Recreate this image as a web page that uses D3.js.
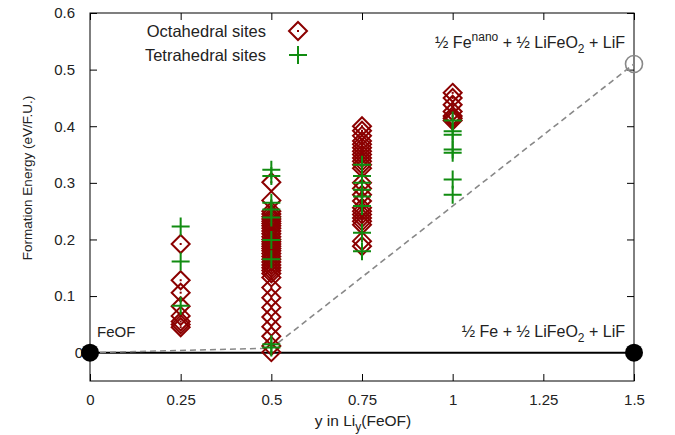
<!DOCTYPE html>
<html>
<head>
<meta charset="utf-8">
<script src="https://cdn.jsdelivr.net/npm/d3@7"></script>
<style>
  body { margin: 0; background: #fff; }
  text { font-family: "Liberation Sans", Arial, sans-serif; fill: #222; }
</style>
</head>
<body>
<script>
// composition y in Li_y(FeOF) for each column of structures
const compositions = [0.25, 0.5, 0.75, 1];

// formation energies (eV/F.U.), one list per composition
const octahedralEnergies = [
  [0.192, 0.128, 0.106, 0.082, 0.065, 0.055, 0.05, 0.045],
  [0.301, 0.269, 0.25, 0.245, 0.24, 0.236, 0.232, 0.228, 0.224, 0.22, 0.215, 0.21,
   0.205, 0.2, 0.196, 0.192, 0.188, 0.184, 0.18, 0.175, 0.17, 0.165, 0.16, 0.155,
   0.15, 0.145, 0.14, 0.133, 0.115, 0.097, 0.08, 0.063, 0.046, 0.029, 0.012, 0.001],
  [0.4, 0.392, 0.383, 0.374, 0.368, 0.362, 0.356, 0.35, 0.344, 0.338, 0.332, 0.326,
   0.3, 0.29, 0.279, 0.268, 0.256, 0.25, 0.244, 0.238, 0.232, 0.226, 0.197, 0.188],
  [0.459, 0.45, 0.438, 0.426, 0.418, 0.414, 0.41]
];
const tetrahedralEnergies = [
  [0.223, 0.161, 0.083],
  [0.323, 0.312, 0.265, 0.253, 0.239, 0.199, 0.165, 0.015, 0.009],
  [0.332, 0.312, 0.3, 0.288, 0.276, 0.259, 0.212, 0.179],
  [0.41, 0.391, 0.385, 0.359, 0.353, 0.306, 0.279]
];

// convex hull with nano Fe (dashed) and the stable end members
const hullY = [0, 0.5, 1.5];
const hullE = [0, 0.008, 0.51];
const endY = [0, 1.5];
const endE = [0, 0];

const xTicks = [0, 0.25, 0.5, 0.75, 1, 1.25, 1.5];
const yTicks = [0, 0.1, 0.2, 0.3, 0.4, 0.5, 0.6];

const W = 675, H = 435;
const plotL = 90, plotR = 634, plotT = 13, plotB = 381;

const svg = d3.select("body").append("svg")
  .attr("width", W).attr("height", H);

const x = d3.scaleLinear().domain([0, 1.5]).range([plotL, plotR]);
const y = d3.scaleLinear().domain([-0.05, 0.6]).range([plotB, plotT]);

const red = "#8b0000", green = "#118c11";

//axes, ticks pointing inward on all four sides
function styleAxis(g) {
  g.select(".domain").remove();
  g.selectAll(".tick line").attr("stroke", "#000");
  g.selectAll(".tick text").style("font-size", "15px").attr("fill", "#222")
    .style("font-family", "'Liberation Sans', Arial, sans-serif");
}
svg.append("g").attr("transform", `translate(0,${plotB})`)
  .call(d3.axisBottom(x).tickValues(xTicks).tickFormat(d => String(d))
    .tickSizeInner(-7).tickSizeOuter(0).tickPadding(13))
  .call(styleAxis);
svg.append("g").attr("transform", `translate(0,${plotT})`)
  .call(d3.axisTop(x).tickValues(xTicks).tickFormat("")
    .tickSizeInner(-7).tickSizeOuter(0))
  .call(styleAxis);
svg.append("g").attr("transform", `translate(${plotL},0)`)
  .call(d3.axisLeft(y).tickValues(yTicks).tickFormat(d => String(d))
    .tickSizeInner(-7).tickSizeOuter(0).tickPadding(15))
  .call(styleAxis)
  .selectAll(".tick text").filter(d => d === 0).attr("x", -7);
svg.append("g").attr("transform", `translate(${plotR},0)`)
  .call(d3.axisRight(y).tickValues(yTicks).tickFormat("")
    .tickSizeInner(-7).tickSizeOuter(0))
  .call(styleAxis);

svg.append("rect")
  .attr("x", plotL).attr("y", plotT)
  .attr("width", plotR - plotL).attr("height", plotB - plotT)
  .attr("fill", "none").attr("stroke", "#000").attr("stroke-width", 1);

// axis titles
svg.append("text")
  .attr("transform", `translate(32,178) rotate(-90)`)
  .attr("text-anchor", "middle").style("font-size", "13.5px")
  .text("Formation Energy (eV/F.U.)");
const xt = svg.append("text")
  .attr("x", (plotL + plotR) / 2 + 1).attr("y", 426)
  .attr("text-anchor", "middle").style("font-size", "15.5px");
xt.append("tspan").text("y in Li");
xt.append("tspan").attr("dy", 5).style("font-size", "12px").text("y");
xt.append("tspan").attr("dy", -5).text("(FeOF)");

// stable line at zero and dashed nano hull
svg.append("line")
  .attr("x1", x(0)).attr("x2", x(1.5)).attr("y1", y(0)).attr("y2", y(0))
  .attr("stroke", "#000").attr("stroke-width", 2);
const hull = hullY.map((d, i) => [d, hullE[i]]);
svg.append("path")
  .attr("d", d3.line().x(d => x(d[0])).y(d => y(d[1]))(hull))
  .attr("fill", "none").attr("stroke", "#888").attr("stroke-width", 1.6)
  .attr("stroke-dasharray", "6,4");

// markers
const diamond = (cx, cy, r) => `M${cx},${cy - r}L${cx + r},${cy}L${cx},${cy + r}L${cx - r},${cy}Z`;
function drawDiamond(g, cx, cy) {
  g.append("path").attr("d", diamond(cx, cy, 9))
    .attr("fill", "none").attr("stroke", red).attr("stroke-width", 2);
  g.append("rect").attr("x", cx - 1).attr("y", cy - 1)
    .attr("width", 2).attr("height", 2).attr("fill", red);
}
function drawPlus(g, cx, cy) {
  g.append("path").attr("d", `M${cx - 9},${cy}H${cx + 9}M${cx},${cy - 9}V${cy + 9}`)
    .attr("stroke", green).attr("stroke-width", 2).attr("fill", "none");
}

const oct = svg.append("g");
compositions.forEach((c, i) => {
  octahedralEnergies[i].forEach(e => drawDiamond(oct, x(c), y(e)));
});
const tet = svg.append("g");
compositions.forEach((c, i) => {
  tetrahedralEnergies[i].forEach(e => drawPlus(tet, x(c), y(e)));
});

// end members and the nano-Fe point
svg.selectAll(".endpt").data(endY).enter().append("circle")
  .attr("cx", d => x(d)).attr("cy", (d, i) => y(endE[i])).attr("r", 9)
  .attr("fill", "#000");
svg.append("circle")
  .attr("cx", x(hullY[2])).attr("cy", y(hullE[2])).attr("r", 8.5)
  .attr("fill", "none").attr("stroke", "#888").attr("stroke-width", 1.6);

// legend
const legend = svg.append("g");
legend.append("text").attr("x", 266).attr("y", 31).attr("dy", "0.35em")
  .attr("text-anchor", "end").style("font-size", "16.5px").text("Octahedral sites");
legend.append("text").attr("x", 266).attr("y", 55).attr("dy", "0.35em")
  .attr("text-anchor", "end").style("font-size", "16.5px").text("Tetrahedral sites");
drawDiamond(legend, 298, 31);
drawPlus(legend, 298, 55);

// annotations
svg.append("text").attr("x", 97).attr("y", 337)
  .style("font-size", "15px").text("FeOF");

const a1 = svg.append("text").attr("x", 625).attr("y", 48)
  .attr("text-anchor", "end").style("font-size", "16px");
a1.append("tspan").text("½ Fe");
a1.append("tspan").attr("dy", -7).style("font-size", "12px").text("nano");
a1.append("tspan").attr("dy", 7).text(" + ½ LiFeO");
a1.append("tspan").attr("dy", 5).style("font-size", "12px").text("2");
a1.append("tspan").attr("dy", -5).text(" + LiF");

const a2 = svg.append("text").attr("x", 625).attr("y", 337)
  .attr("text-anchor", "end").style("font-size", "16px");
a2.append("tspan").text("½ Fe + ½ LiFeO");
a2.append("tspan").attr("dy", 5).style("font-size", "12px").text("2");
a2.append("tspan").attr("dy", -5).text(" + LiF");
</script>
</body>
</html>
